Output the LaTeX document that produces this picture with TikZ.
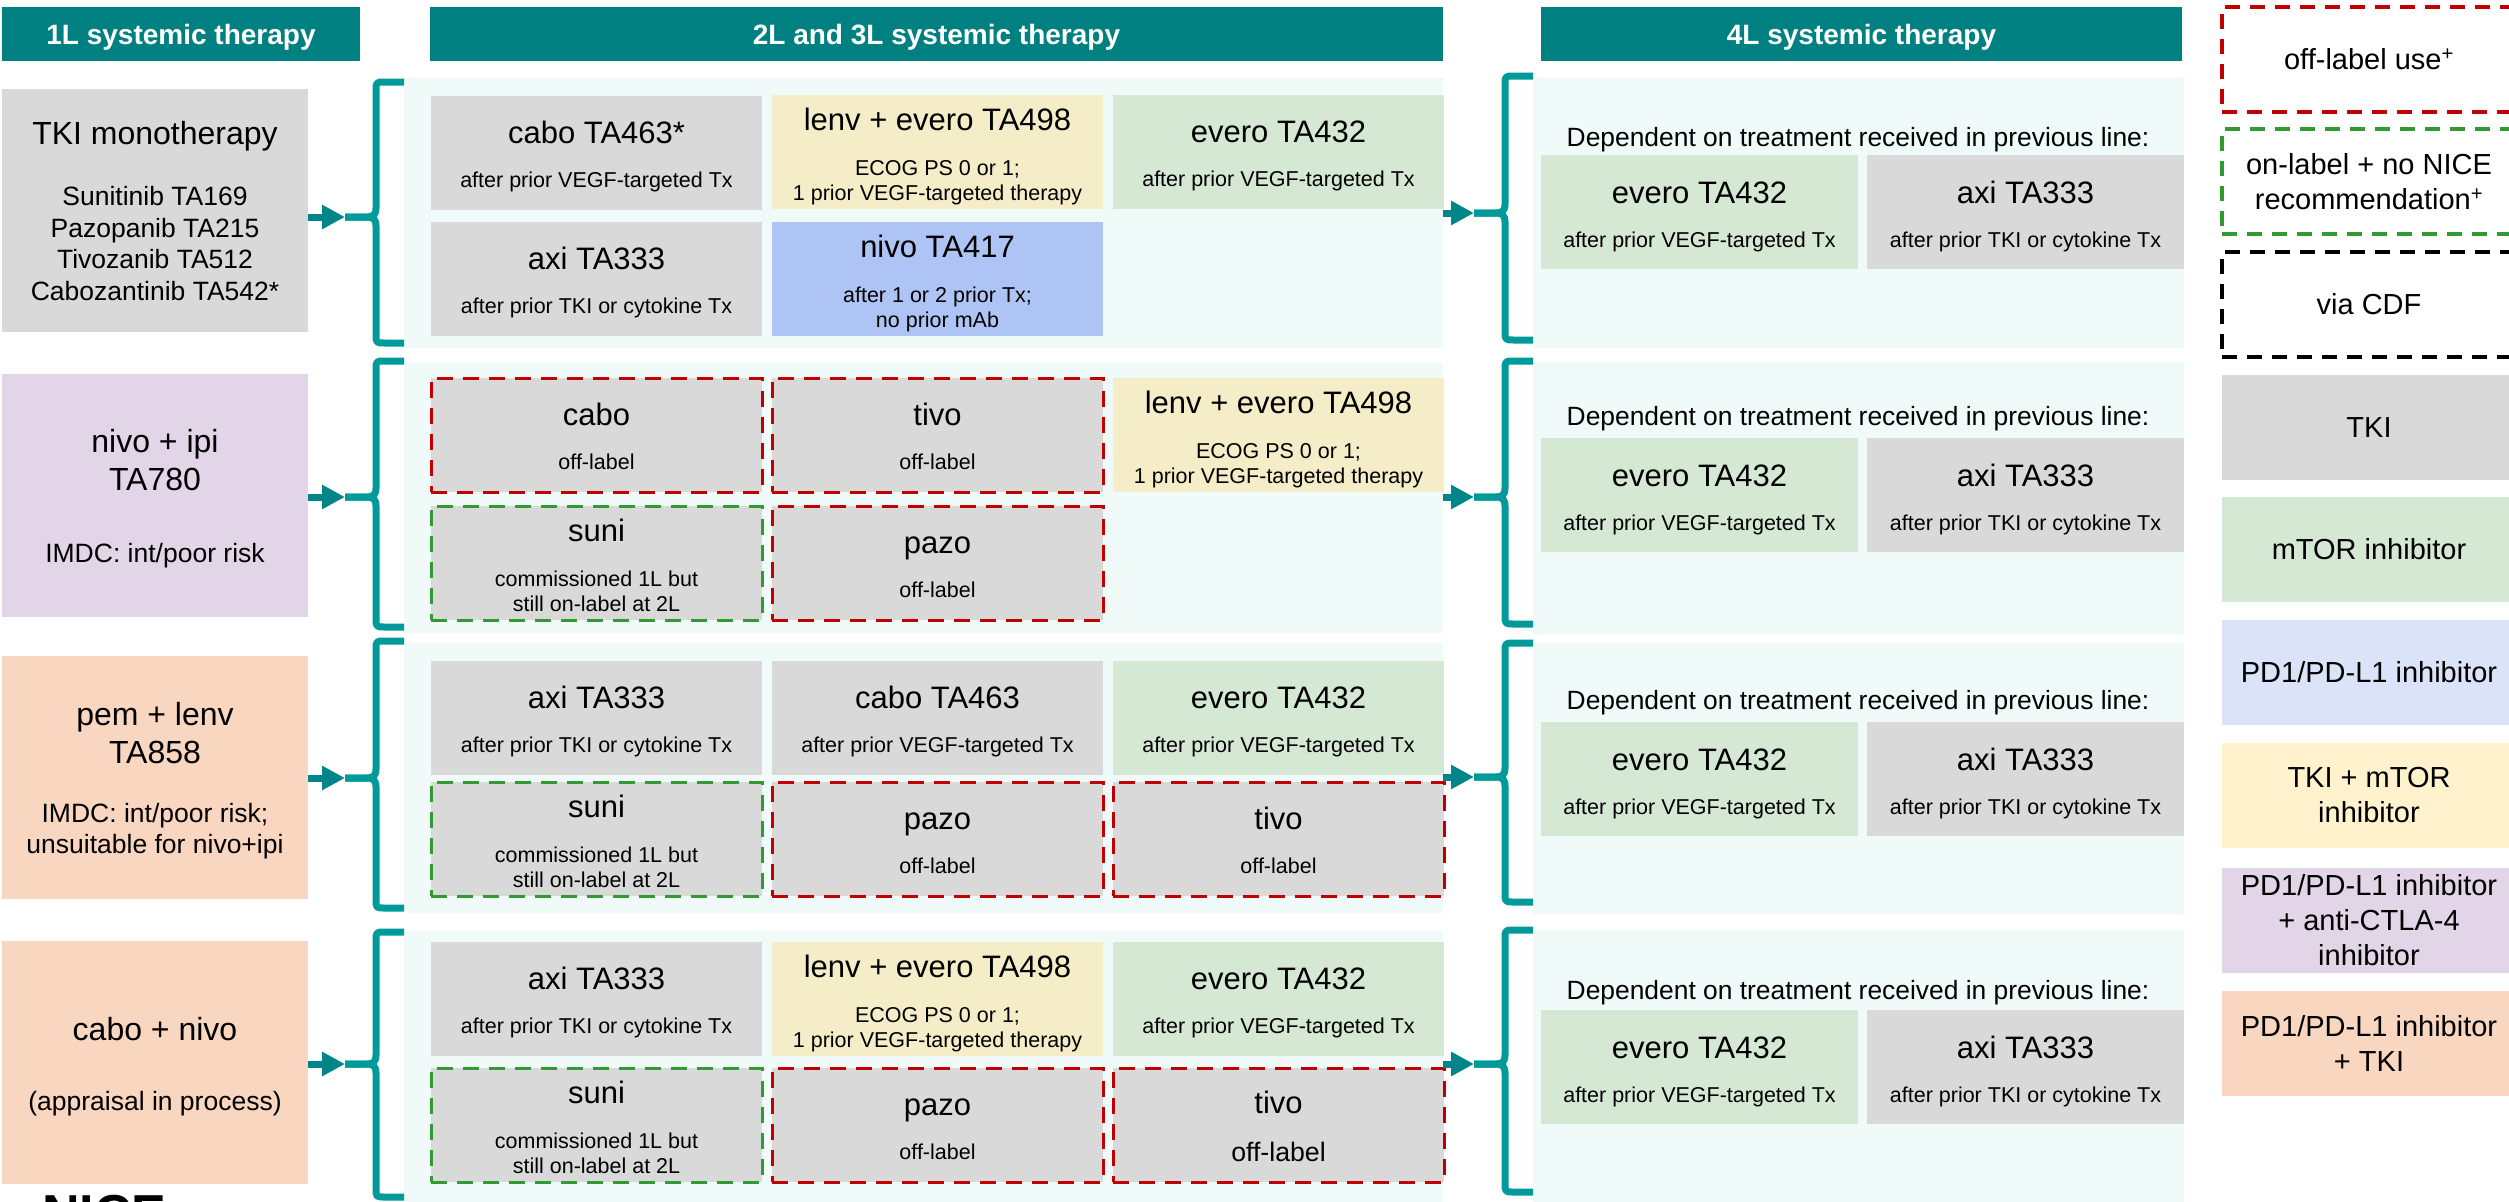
\documentclass[tikz,border=0pt]{standalone}
\usepackage{fontspec}
\setmainfont{Liberation Sans}
\usetikzlibrary{arrows.meta}

\definecolor{teal1}{HTML}{008080}
\definecolor{bracec}{HTML}{009A9A}
\definecolor{arrowc}{HTML}{00868A}
\definecolor{panelc}{HTML}{F0FAF8}
\definecolor{grayc}{HTML}{D9D9D9}
\definecolor{yelc}{HTML}{F5EDC7}
\definecolor{yelL}{HTML}{FFF2CC}
\definecolor{grnc}{HTML}{D5E8D4}
\definecolor{bluec}{HTML}{AEC4F4}
\definecolor{blueL}{HTML}{DAE3F8}
\definecolor{purc}{HTML}{E1D5E7}
\definecolor{orac}{HTML}{F9D6C0}
\definecolor{redd}{HTML}{C00000}
\definecolor{grnd}{HTML}{339933}

\newcommand\ftHead{\fontsize{28}{32}\selectfont\bfseries}
\newcommand\ftOne{\fontsize{32}{36}\selectfont}
\newcommand\ftOneS{\fontsize{26.5}{31}\selectfont}
\newcommand\ftT{\fontsize{31}{35}\selectfont}
\newcommand\ftS{\fontsize{21.5}{25}\selectfont}
\newcommand\ftSb{\fontsize{26.7}{30}\selectfont}
\newcommand\ftDep{\fontsize{26.4}{30}\selectfont}
\newcommand\ftLeg{\fontsize{29}{35}\selectfont}
\newcommand\ftNice{\fontsize{52}{52}\selectfont\bfseries}

\tikzset{
  box/.style={inner sep=0pt, outer sep=0pt, draw=none, anchor=north west},
  panel/.style={box, fill=panelc},
  hdr/.style={box, fill=teal1, text=white, font=\ftHead, minimum height=54pt,
              text height=20pt, text depth=0pt},
  cellbox/.style={box, minimum width=331pt, minimum height=114pt},
  fourbox/.style={box, minimum width=317pt, minimum height=114pt},
  redb/.style={draw=redd, line width=3pt, dash pattern=on 16pt off 10pt},
  grnb/.style={draw=grnd, line width=3pt, dash pattern=on 16pt off 10pt},
  tx/.style={anchor=base, inner sep=0pt, outer sep=0pt},
  legb/.style={box, minimum width=294pt, minimum height=105pt, font=\ftLeg, align=center},
  legd/.style={line width=3.5pt, dash pattern=on 15pt off 10pt},
  brc/.style={draw=bracec, line width=7pt, line join=round},
  arr/.style={draw=arrowc, line width=7pt, -{Triangle[length=23pt,width=23pt]}},
}

% cell with one subtitle line
\newcommand\cellA[6]{%
  \node[cellbox,#4] (#1) at (#2,#3) {};
  \node[tx,font=\ftT] (#1-t) at ([yshift=-47pt]#1.north) {#5};
  \node[tx,font=\ftS] (#1-s) at ([yshift=-91pt]#1.north) {#6};
}
% cell with two subtitle lines
\newcommand\cellB[7]{%
  \node[cellbox,#4] (#1) at (#2,#3) {};
  \node[tx,font=\ftT] (#1-t) at ([yshift=-35pt]#1.north) {#5};
  \node[tx,font=\ftS] (#1-s) at ([yshift=-80pt]#1.north) {#6};
  \node[tx,font=\ftS] (#1-u) at ([yshift=-105pt]#1.north) {#7};
}
% 4L cell
\newcommand\cellC[6]{%
  \node[fourbox,#4] (#1) at (#2,#3) {};
  \node[tx,font=\ftT] (#1-t) at ([yshift=-48pt]#1.north) {#5};
  \node[tx,font=\ftS] (#1-s) at ([yshift=-92pt]#1.north) {#6};
}
% brace: name, x vertical, top, bottom, tip, x right end
\newcommand\mybrace[6]{%
  \coordinate (#1) at (#2-31,#5);
  \draw[brc] (#6,#3) -- (#2+9,#3) .. controls (#2,#3) .. (#2,#3+9) -- (#2,#5-9)
     .. controls (#2,#5-2) and (#2-3,#5) .. (#2-9,#5) -- (#1);
  \draw[brc] (#6,#4) -- (#2+9,#4) .. controls (#2,#4) .. (#2,#4-9) -- (#2,#5+9)
     .. controls (#2,#5+2) and (#2-3,#5) .. (#2-9,#5) -- (#1);
}

\begin{document}
\begin{tikzpicture}[x=1pt,y=-1pt]
\useasboundingbox (0,0) rectangle (2509,1202);

% headers
\node[hdr, minimum width=358pt] (H1) at (2,7) {1L systemic therapy};
\node[hdr, minimum width=1013pt] (H2) at (430,7) {2L and 3L systemic therapy};
\node[hdr, minimum width=641pt] (H3) at (1541,7) {4L systemic therapy};

% panels
\node[panel, minimum width=1039pt, minimum height=270pt] (P1) at (404,78) {};
\node[panel, minimum width=1039pt, minimum height=270pt] (P2) at (404,363) {};
\node[panel, minimum width=1039pt, minimum height=270pt] (P3) at (404,643) {};
\node[panel, minimum width=1039pt, minimum height=272pt] (P4) at (404,931) {};
\node[panel, minimum width=651pt, minimum height=270pt] (Q1) at (1533,78) {};
\node[panel, minimum width=651pt, minimum height=272pt] (Q2) at (1533,362) {};
\node[panel, minimum width=651pt, minimum height=271pt] (Q3) at (1533,643) {};
\node[panel, minimum width=651pt, minimum height=272pt] (Q4) at (1533,930) {};

% 1L boxes
\node[box, fill=grayc, minimum width=306pt, minimum height=243pt] (L1) at (2,89) {};
\node[tx, font=\ftOne] (L1a) at (155,144) {TKI monotherapy};
\node[tx, font=\ftOneS] (L1b) at (155,205) {Sunitinib TA169};
\node[tx, font=\ftOneS] (L1c) at (155,237) {Pazopanib TA215};
\node[tx, font=\ftOneS] (L1d) at (155,268) {Tivozanib TA512};
\node[tx, font=\ftOneS] (L1e) at (155,300) {Cabozantinib TA542*};

\node[box, fill=purc, minimum width=306pt, minimum height=243pt] (L2) at (2,374) {};
\node[tx, font=\ftOne] (L2a) at (155,452) {nivo + ipi};
\node[tx, font=\ftOne] (L2b) at (155,490) {TA780};
\node[tx, font=\ftOneS] (L2c) at (155,562) {IMDC: int/poor risk};

\node[box, fill=orac, minimum width=306pt, minimum height=243pt] (L3) at (2,656) {};
\node[tx, font=\ftOne] (L3a) at (155,725) {pem + lenv};
\node[tx, font=\ftOne] (L3b) at (155,763) {TA858};
\node[tx, font=\ftOneS] (L3c) at (155,822) {IMDC: int/poor risk;};
\node[tx, font=\ftOneS] (L3d) at (155,853) {unsuitable for nivo+ipi};

\node[box, fill=orac, minimum width=306pt, minimum height=243pt] (L4) at (2,941) {};
\node[tx, font=\ftOne] (L4a) at (155,1040) {cabo + nivo};
\node[tx, font=\ftOneS] (L4b) at (155,1110) {(appraisal in process)};

% 2L/3L cells, row 1
\cellA{A11}{431}{96}{fill=grayc}{cabo TA463*}{after prior VEGF-targeted Tx}
\cellB{A12}{772}{95}{fill=yelc}{lenv + evero TA498}{ECOG PS 0 or 1;}{1 prior VEGF-targeted therapy}
\cellA{A13}{1113}{95}{fill=grnc}{evero TA432}{after prior VEGF-targeted Tx}
\cellA{A14}{431}{222}{fill=grayc}{axi TA333}{after prior TKI or cytokine Tx}
\cellB{A15}{772}{222}{fill=bluec}{nivo TA417}{after 1 or 2 prior Tx;}{no prior mAb}

% row 2
\cellA{B11}{431}{378}{fill=grayc,redb}{cabo}{off-label}
\cellA{B12}{772}{378}{fill=grayc,redb}{tivo}{off-label}
\cellB{B13}{1113}{378}{fill=yelc}{lenv + evero TA498}{ECOG PS 0 or 1;}{1 prior VEGF-targeted therapy}
\cellB{B14}{431}{506}{fill=grayc,grnb}{suni}{commissioned 1L but}{still on-label at 2L}
\cellA{B15}{772}{506}{fill=grayc,redb}{pazo}{off-label}

% row 3
\cellA{C11}{431}{661}{fill=grayc}{axi TA333}{after prior TKI or cytokine Tx}
\cellA{C12}{772}{661}{fill=grayc}{cabo TA463}{after prior VEGF-targeted Tx}
\cellA{C13}{1113}{661}{fill=grnc}{evero TA432}{after prior VEGF-targeted Tx}
\cellB{C14}{431}{782}{fill=grayc,grnb}{suni}{commissioned 1L but}{still on-label at 2L}
\cellA{C15}{772}{782}{fill=grayc,redb}{pazo}{off-label}
\cellA{C16}{1113}{782}{fill=grayc,redb}{tivo}{off-label}

% row 4
\cellA{D11}{431}{942}{fill=grayc}{axi TA333}{after prior TKI or cytokine Tx}
\cellB{D12}{772}{942}{fill=yelc}{lenv + evero TA498}{ECOG PS 0 or 1;}{1 prior VEGF-targeted therapy}
\cellA{D13}{1113}{942}{fill=grnc}{evero TA432}{after prior VEGF-targeted Tx}
\cellB{D14}{431}{1068}{fill=grayc,grnb}{suni}{commissioned 1L but}{still on-label at 2L}
\cellA{D15}{772}{1068}{fill=grayc,redb}{pazo}{off-label}
\node[cellbox,fill=grayc,redb] (D16) at (1113,1068) {};
\node[tx,font=\ftT] (D16-t) at ([yshift=-45pt]D16.north) {tivo};
\node[tx,font=\ftSb] (D16-s) at ([yshift=-93pt]D16.north) {off-label};

% 4L
\node[tx, font=\ftDep] (E1d) at (1858,146) {Dependent on treatment received in previous line:};
\cellC{E11}{1541}{155}{fill=grnc}{evero TA432}{after prior VEGF-targeted Tx}
\cellC{E12}{1867}{155}{fill=grayc}{axi TA333}{after prior TKI or cytokine Tx}
\node[tx, font=\ftDep] (E2d) at (1858,425) {Dependent on treatment received in previous line:};
\cellC{E21}{1541}{438}{fill=grnc}{evero TA432}{after prior VEGF-targeted Tx}
\cellC{E22}{1867}{438}{fill=grayc}{axi TA333}{after prior TKI or cytokine Tx}
\node[tx, font=\ftDep] (E3d) at (1858,709) {Dependent on treatment received in previous line:};
\cellC{E31}{1541}{722}{fill=grnc}{evero TA432}{after prior VEGF-targeted Tx}
\cellC{E32}{1867}{722}{fill=grayc}{axi TA333}{after prior TKI or cytokine Tx}
\node[tx, font=\ftDep] (E4d) at (1858,999) {Dependent on treatment received in previous line:};
\cellC{E41}{1541}{1010}{fill=grnc}{evero TA432}{after prior VEGF-targeted Tx}
\cellC{E42}{1867}{1010}{fill=grayc}{axi TA333}{after prior TKI or cytokine Tx}

% braces
\mybrace{B1}{376}{82}{343}{217}{404}
\mybrace{B2}{376}{361}{627}{497}{404}
\mybrace{B3}{376}{641}{908}{778}{404}
\mybrace{B4}{376}{932}{1197}{1064}{404}
\mybrace{C1}{1505}{76}{340}{213}{1533}
\mybrace{C2}{1505}{361}{624}{497}{1533}
\mybrace{C3}{1505}{643}{902}{777}{1533}
\mybrace{C4}{1505}{930}{1192}{1064}{1533}

% arrows
\draw[arr] (L1.east |- B1) -- (B1);
\draw[arr] (L2.east |- B2) -- (B2);
\draw[arr] (L3.east |- B3) -- (B3);
\draw[arr] (L4.east |- B4) -- (B4);
\draw[arr] (P1.east |- C1) -- (C1);
\draw[arr] (P2.east |- C2) -- (C2);
\draw[arr] (P3.east |- C3) -- (C3);
\draw[arr] (P4.east |- C4) -- (C4);

% legend
\node[legb, legd, draw=redd] (G1) at (2222,7) {off-label use\textsuperscript{+}};
\node[legb, legd, draw=grnd] (G2) at (2222,129) {on-label + no NICE\\recommendation\textsuperscript{+}};
\node[legb, legd, draw=black] (G3) at (2222,252) {via CDF};
\node[legb, fill=grayc] (G4) at (2222,375) {TKI};
\node[legb, fill=grnc] (G5) at (2222,497) {mTOR inhibitor};
\node[legb, fill=blueL] (G6) at (2222,620) {PD1/PD-L1 inhibitor};
\node[legb, fill=yelL] (G7) at (2222,743) {TKI + mTOR\\inhibitor};
\node[legb, fill=purc] (G8) at (2222,868) {PD1/PD-L1 inhibitor\\+ anti-CTLA-4\\inhibitor};
\node[legb, fill=orac] (G9) at (2222,991) {PD1/PD-L1 inhibitor\\+ TKI};

% logo (cut off at the bottom edge)
\node[box, font=\ftNice] (nice) at (42,1195) {NICE};
\end{tikzpicture}
\end{document}
